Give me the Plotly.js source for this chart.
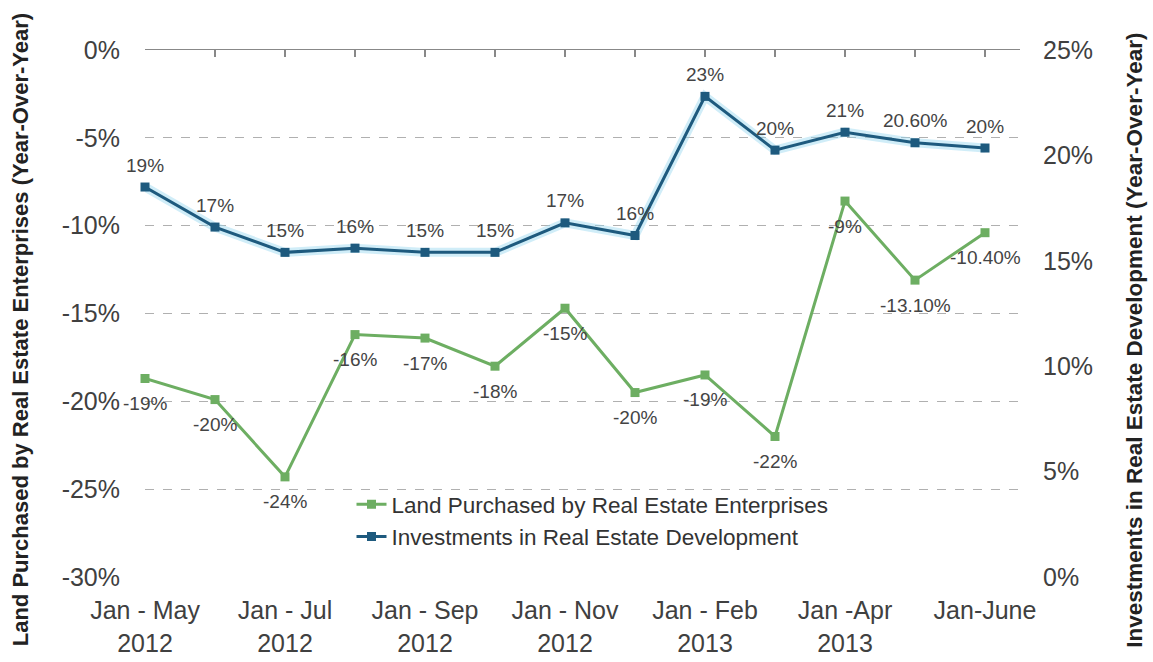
<!DOCTYPE html>
<html>
<head>
<meta charset="utf-8">
<script src="https://cdn.plot.ly/plotly-3.0.1.min.js"></script>
<style>html,body{margin:0;padding:0;background:#fff;}#chart{width:1153px;height:662px;}</style>
</head>
<body>
<div id="chart"></div>
<script>
const categories = ["Jan - May 2012","Jan - Jun 2012","Jan - Jul 2012","Jan - Aug 2012","Jan - Sep 2012","Jan - Oct 2012","Jan - Nov 2012","Jan - Dec 2012","Jan - Feb 2013","Jan - Mar 2013","Jan -Apr 2013","Jan - May 2013","Jan-June 2013"];
const landValues = [-18.7, -19.9, -24.3, -16.2, -16.4, -18.0, -14.7, -19.5, -18.5, -22.0, -8.6, -13.1, -10.4];
const landLabels = ["-19%","-20%","-24%","-16%","-17%","-18%","-15%","-20%","-19%","-22%","-9%","-13.10%","-10.40%"];
const investValues = [18.5, 16.6, 15.4, 15.6, 15.4, 15.4, 16.8, 16.2, 22.8, 20.25, 21.1, 20.6, 20.35];
const investLabels = ["19%","17%","15%","16%","15%","15%","17%","16%","23%","20%","21%","20.60%","20%"];
const tickCategories = ["Jan - May 2012","Jan - Jul 2012","Jan - Sep 2012","Jan - Nov 2012","Jan - Feb 2013","Jan -Apr 2013","Jan-June 2013"];
const tickLabels = ["Jan - May<br>2012","Jan - Jul<br>2012","Jan - Sep<br>2012","Jan - Nov<br>2012","Jan - Feb<br>2013","Jan -Apr<br>2013","Jan-June"];
const leftTicks = [0, -5, -10, -15, -20, -25, -30];
const leftTickLabels = ["0%","-5%","-10%","-15%","-20%","-25%","-30%"];
const rightTicks = [0, 5, 10, 15, 20, 25];
const rightTickLabels = ["0%","5%","10%","15%","20%","25%"];
const leftTitle = 'Land Purchased by Real Estate Enterprises (Year-Over-Year)';
const rightTitle = 'Investments in Real Estate Development (Year-Over-Year)';

const FONT = '"Liberation Sans", Arial, sans-serif';
const green = '#6dae62';
const blue = '#1e5a7e';
const labelFont = {family: FONT, size: 19, color: '#444'};

const data = [
  {
    name: 'Land Purchased by Real Estate Enterprises',
    x: categories, y: landValues,
    type: 'scatter', mode: 'lines+markers',
    xaxis: 'x', yaxis: 'y',
    line: {color: green, width: 3},
    marker: {symbol: 'square', size: 9, color: green},
    cliponaxis: false
  },
  {
    name: 'glow',
    x: categories, y: investValues,
    type: 'scatter', mode: 'lines',
    xaxis: 'x2', yaxis: 'y2',
    line: {color: 'rgba(150,215,240,0.45)', width: 9},
    showlegend: false, hoverinfo: 'skip',
    cliponaxis: false
  },
  {
    name: 'Investments in Real Estate Development',
    x: categories, y: investValues,
    type: 'scatter', mode: 'lines+markers',
    xaxis: 'x2', yaxis: 'y2',
    line: {color: blue, width: 3},
    marker: {symbol: 'square', size: 9, color: blue},
    cliponaxis: false
  }
];

const annotations = [];
categories.forEach((c, i) => {
  annotations.push({x: c, y: landValues[i], xref: 'x', yref: 'y', text: landLabels[i],
    showarrow: false, yshift: -25, font: labelFont});
  annotations.push({x: c, y: investValues[i], xref: 'x2', yref: 'y2', text: investLabels[i],
    showarrow: false, yshift: 22, font: labelFont});
});
annotations.push({text: leftTitle, xref: 'paper', yref: 'paper', x: -0.1429, y: 0.47,
  xanchor: 'center', yanchor: 'middle', textangle: -90, showarrow: false,
  font: {family: FONT, size: 22, color: '#222', weight: 'bold'}});
annotations.push({text: rightTitle, xref: 'paper', yref: 'paper', x: 1.1314, y: 0.45,
  xanchor: 'center', yanchor: 'middle', textangle: -90, showarrow: false,
  font: {family: FONT, size: 22.5, color: '#222', weight: 'bold'}});

const layout = {
  width: 1153, height: 662,
  margin: {l: 145, r: 133, t: 50, b: 85},
  paper_bgcolor: '#fff', plot_bgcolor: '#fff',
  font: {family: FONT, color: '#404040'},
  showlegend: true,
  annotations: annotations,
  legend: {
    x: 0.236, y: 0.178, xanchor: 'left', yanchor: 'top',
    bgcolor: 'rgba(0,0,0,0)',
    font: {family: FONT, size: 22.5, color: '#333'},
    tracegroupgap: 0, itemwidth: 30
  },
  xaxis: {
    type: 'category', categoryorder: 'array', categoryarray: categories,
    range: [0, 12.5],
    tickmode: 'array', tickvals: tickCategories, ticktext: tickLabels,
    showline: false, showgrid: false, zeroline: false, ticks: '',
    tickfont: {family: FONT, size: 25, color: '#404040'},
    ticklabelstandoff: 16,
    fixedrange: true
  },
  xaxis2: {
    type: 'category', categoryorder: 'array', categoryarray: categories,
    overlaying: 'x', side: 'top', anchor: 'y',
    range: [0, 12.5],
    tickmode: 'array', tickvals: categories,
    showticklabels: false,
    showline: true, linecolor: '#888', linewidth: 1.5,
    ticks: 'inside', ticklen: 7, tickcolor: '#888', tickwidth: 1.5,
    showgrid: false, zeroline: false
  },
  yaxis: {
    range: [-30, 0],
    tickmode: 'array', tickvals: leftTicks, ticktext: leftTickLabels,
    showgrid: true, gridcolor: '#b0b0b0', griddash: 'dash', gridwidth: 1,
    zeroline: false, showline: false, ticks: '',
    tickfont: {family: FONT, size: 25, color: '#404040'},
    ticklabelstandoff: 24,
    automargin: false
  },
  yaxis2: {
    range: [0, 25], overlaying: 'y', side: 'right', anchor: 'x',
    tickmode: 'array', tickvals: rightTicks, ticktext: rightTickLabels,
    showgrid: false, zeroline: false, showline: false, ticks: '',
    tickfont: {family: FONT, size: 25, color: '#404040'},
    ticklabelstandoff: 22,
    automargin: false
  }
};

Plotly.newPlot('chart', data, layout, {displayModeBar: false, staticPlot: true});
</script>
</body>
</html>
